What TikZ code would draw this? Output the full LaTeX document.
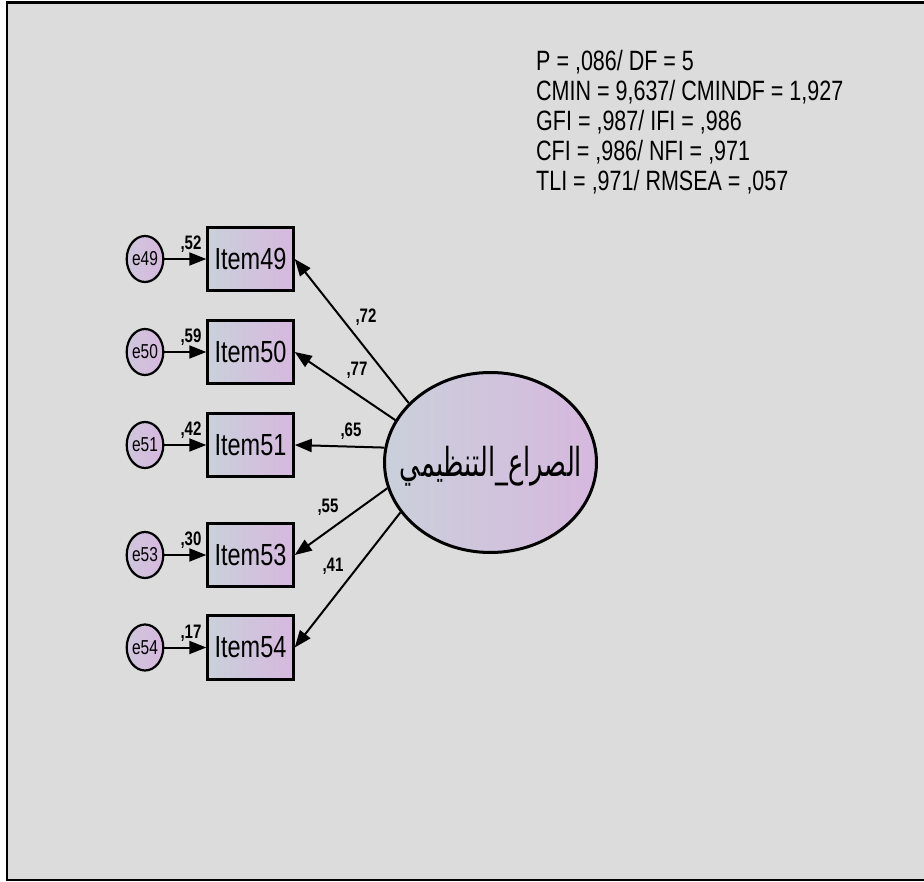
\documentclass[tikz,border=0pt]{standalone}
\usepackage{graphicx}
\usepackage{fontspec}
\setmainfont{Liberation Sans}
\newfontfamily\arabicfont[Script=Arabic]{DejaVu Sans}
\TeXXeTstate=1
\usetikzlibrary{shapes.geometric,arrows.meta}
\definecolor{bg}{RGB}{220,220,220}
\definecolor{nodeL}{RGB}{202,208,219}
\definecolor{nodeR}{RGB}{214,184,222}
\newcommand{\vstr}[1]{\scalebox{1}[1.3]{#1}}
\tikzset{
  itembox/.style={draw=black, line width=3pt, left color=nodeL, right color=nodeR,
    minimum width=85.5pt, minimum height=63.5pt, inner sep=0pt,
    font=\fontsize{23.5}{24}\selectfont},
  errnode/.style={ellipse, draw=black, line width=2.2pt, left color=nodeL!60!nodeR, right color=nodeR,
    minimum width=34pt, minimum height=46pt, inner sep=0pt,
    font=\fontsize{15.5}{16}\selectfont},
  latent/.style={ellipse, draw=black, line width=3pt, left color=nodeL, right color=nodeR,
    minimum width=212pt, minimum height=180pt, inner sep=0pt},
  path/.style={line width=2pt, -{Triangle[length=17pt,width=13pt]}},
  coef/.style={font=\fontsize{15}{15}\bfseries, inner sep=0pt},
  stat/.style={anchor=base west, inner sep=0pt, font=\fontsize{21.5}{22}\selectfont}
}
\begin{document}
\begin{tikzpicture}[x=1pt,y=-1pt]
\useasboundingbox (0,0) rectangle (924,882);
\clip (0,0) rectangle (924,882);
\fill[white] (0,0) rectangle (924,882);
\draw[line width=2.6pt, fill=bg] (6.8,2.8) rectangle (940,880);

\node[stat] (s1) at (536,71) {\vstr{P = ,086/ DF = 5}};
\node[stat] (s2) at (536,101) {\vstr{CMIN = 9,637/ CMINDF = 1,927}};
\node[stat] (s3) at (536,131) {\vstr{GFI = ,987/ IFI = ,986}};
\node[stat] (s4) at (536,161) {\vstr{CFI = ,986/ NFI = ,971}};
\node[stat] (s5) at (536,191) {\vstr{TLI = ,971/ RMSEA = ,057}};

\node[latent] (f) at (490.5,462.5) {};
\node[inner sep=0pt] (ft) at (491,466) {\resizebox*{182pt}{40pt}{\arabicfont\beginR الصراع\_التنظيمي\endR}};

\node[itembox] (b49) at (250.5,259) {\vstr{Item49}};
\node[itembox] (b50) at (250.5,352) {\vstr{Item50}};
\node[itembox] (b51) at (250.5,445) {\vstr{Item51}};
\node[itembox] (b53) at (250.5,555) {\vstr{Item53}};
\node[itembox] (b54) at (250.5,647.5) {\vstr{Item54}};

\node[errnode] (e49) at (145,259) {\vstr{e49}};
\node[errnode] (e50) at (145,352) {\vstr{e50}};
\node[errnode] (e51) at (145,445) {\vstr{e51}};
\node[errnode] (e53) at (145,555) {\vstr{e53}};
\node[errnode] (e54) at (145,647.5) {\vstr{e54}};

\foreach \i in {49,50,51,53,54}{
  \draw[path] (e\i) -- (b\i);
}
\node[coef] (c49) at (191,244) {\vstr{,52}};
\node[coef] (c50) at (191,337) {\vstr{,59}};
\node[coef] (c51) at (191,430) {\vstr{,42}};
\node[coef] (c53) at (191,540) {\vstr{,30}};
\node[coef] (c54) at (191,633) {\vstr{,17}};

\draw[path] (f.144.5) -- (b49.east);
\draw[path] (f.156.4) -- (b50.east);
\draw[path] (f.172.8) -- (b51.east);
\draw[path] (f.194.4) -- (b53.east);
\draw[path] (f.209.2) -- (b54.east);

\node[coef] (l49) at (366,317) {\vstr{,72}};
\node[coef] (l50) at (357,370) {\vstr{,77}};
\node[coef] (l51) at (351,431) {\vstr{,65}};
\node[coef] (l53) at (328,507) {\vstr{,55}};
\node[coef] (l54) at (333,566) {\vstr{,41}};
\end{tikzpicture}
\end{document}
